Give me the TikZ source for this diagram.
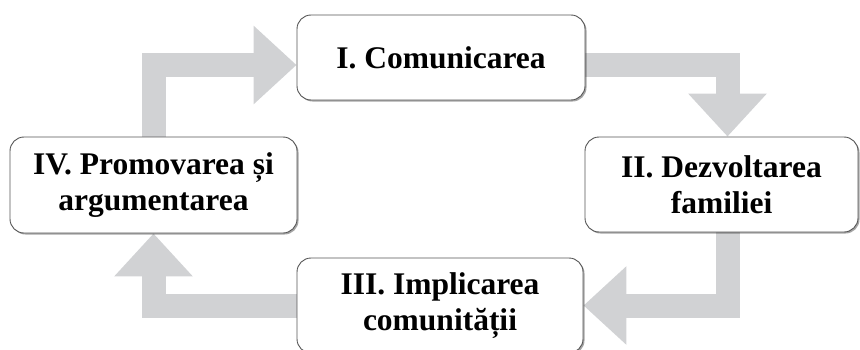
\documentclass[tikz,border=0pt]{standalone}
\usepackage{fontspec}
\setmainfont{Liberation Serif}
\usepackage{tikz}
\usetikzlibrary{arrows.meta, shadows, backgrounds}

\definecolor{flowgray}{RGB}{209,210,212}
\definecolor{boxline}{RGB}{85,85,85}

\begin{document}
\begin{tikzpicture}[
    x=1bp, y=1bp,
    every node/.style={font=\fontsize{31.5bp}{36bp}\selectfont\bfseries},
    phase/.style={rectangle, draw=boxline, line width=0.9bp, rounded corners=14bp, fill=white, align=center, drop shadow={shadow xshift=1.5bp, shadow yshift=-1.5bp, fill=black, opacity=0.35}},
    flow/.style={draw=flowgray, line width=24bp, line join=miter, -{Triangle[length=43bp, width=76bp]}}
]
\useasboundingbox (0,0) rectangle (860,349);

% Phases of the cycle
\node (n1) [phase, minimum width=288bp, minimum height=85bp] at (441,291.5) {I. Comunicarea};
\node (n2) [phase, minimum width=273bp, minimum height=95bp] at (721.5,164.5) {II. Dezvoltarea\\familiei};
\node (n3) [phase, minimum width=286bp, minimum height=95bp] at (440,43.5) {III. Implicarea\\comunității};
\node (n4) [phase, minimum width=287bp, minimum height=96bp] at (153.5,164) {IV. Promovarea și\\argumentarea};

% Block arrows
\begin{scope}[on background layer]
    \draw [flow] (n4.north) |- ([yshift=-7.5bp]n1.west);
    \draw [flow] ([yshift=-7.5bp]n1.east) -| ([xshift=6bp]n2.north);
    \draw [flow] ([xshift=6bp]n2.south) |- (n3.east);
    \draw [flow] (n3.west) -| (n4.south);
\end{scope}

\end{tikzpicture}
\end{document}
